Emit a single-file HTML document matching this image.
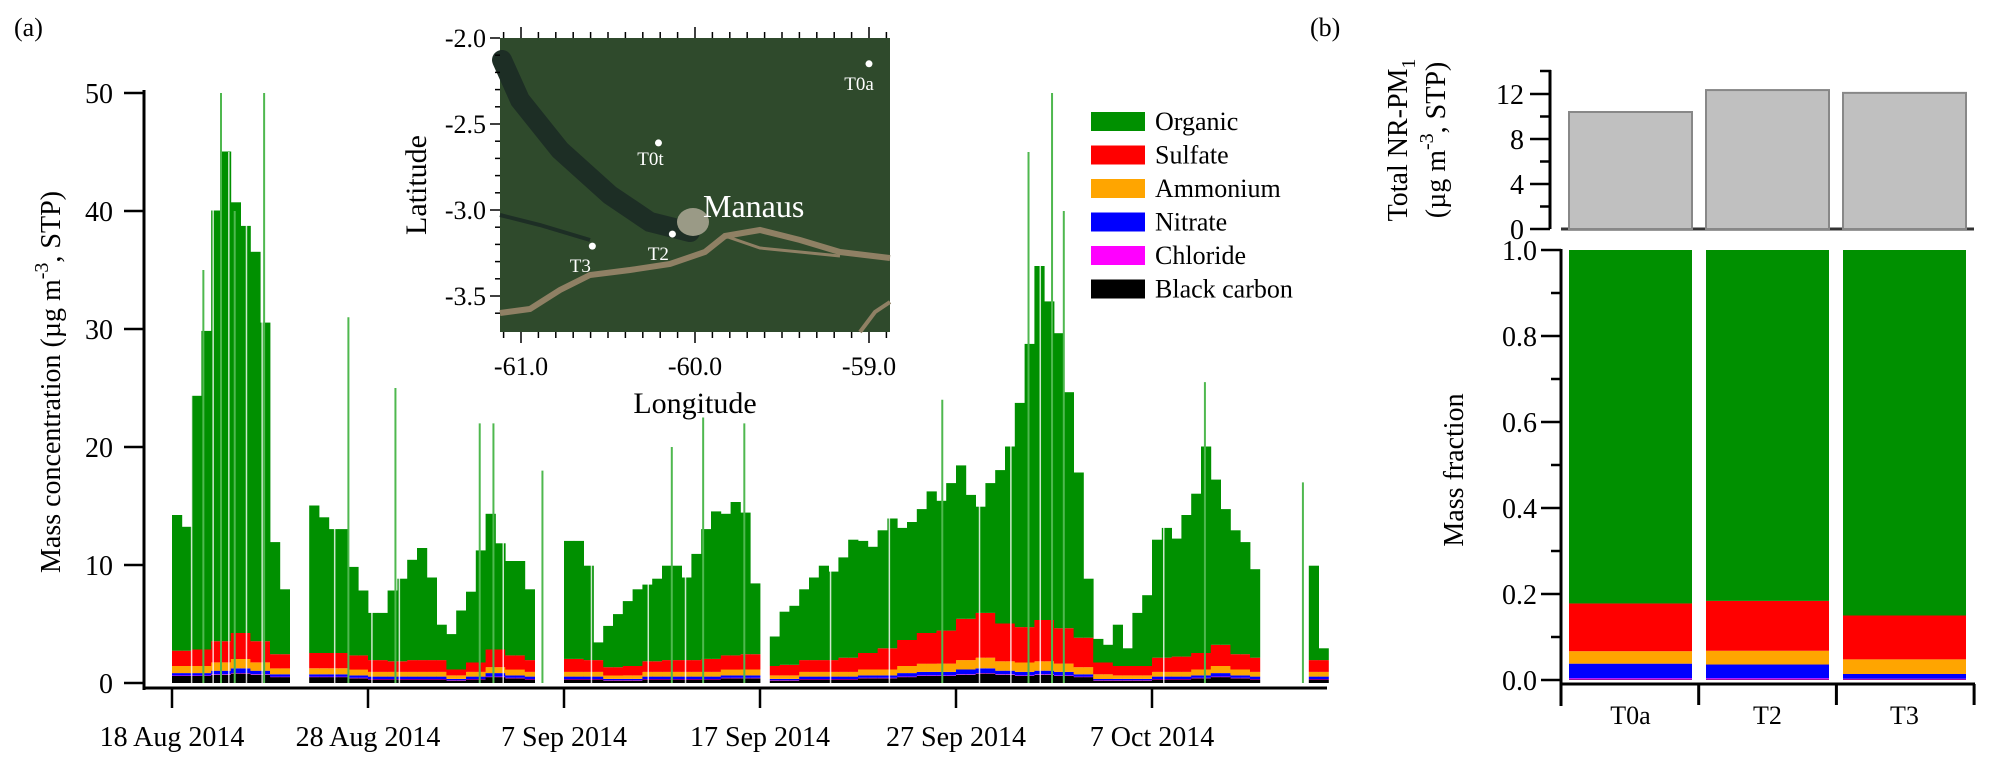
<!DOCTYPE html>
<html><head><meta charset="utf-8">
<style>
html,body{margin:0;padding:0;background:#fff;}
svg{display:block;}
svg text{font-family:"Liberation Serif","Times New Roman",serif;}
</style></head>
<body>
<svg id="fig" width="1995" height="776" viewBox="0 0 1995 776" xmlns="http://www.w3.org/2000/svg" font-family="Liberation Serif, serif">
<g id="panelA"></g>
<g id="mapG"></g>
<g id="legendG"></g>
<g id="panelB"></g>
<text x="14" y="36" font-size="26">(a)</text>
<text x="1310" y="36" font-size="26">(b)</text>
</svg>
<script>
// ---------- Panel (a) data: half-day bins starting 18 Aug 2014 ----------
const orgHalfDay = [11.5,10.5,21.5,27,36.5,41.5,36.5,34.5,33,27,9.5,5.5,null,null,12.5,11.5,10.5,10.5,7.5,5.5,4,4,6,7,8.5,9.5,7,3,3,5,6,9.5,11.5,9,8,8,6,null,null,null,10,10,8,1.5,3.5,4.5,5.5,6.5,6.5,7,8,8,7,9,11,12.5,12,13,12,6,null,2.5,4.5,5,6,7,8,7.5,8.5,10,9.5,9,10,11,9.5,10,10.5,12,11,12.5,13,10.5,9,11,13,15,19,24,30,27,25,20,14,5,2,1.5,3.5,1.5,4.5,6,10,11,10,12,13.5,17.5,14,11.5,10.5,9.5,7.5,null,null,null,null,null,8,1];
const so4Daily = [1.3,1.4,1.8,2.2,1.8,1.2,1.2,1.3,1.3,1.2,1.0,0.9,1.0,1.0,0.5,0.8,1.5,1.2,1.0,1.0,1.1,1.0,0.7,0.8,0.9,1.0,1.0,1.1,1.2,1.3,0.8,0.9,1.0,1.0,1.2,1.4,1.8,2.2,2.6,2.8,3.5,3.8,3.2,3.0,3.5,3.0,2.5,1.0,0.8,0.8,1.2,1.3,1.4,1.8,1.3,1.2,1.0,1.0,1.0,0.8];
const nh4Daily = [0.6,0.6,0.7,0.8,0.7,0.5,0.5,0.5,0.5,0.5,0.4,0.4,0.4,0.4,0.3,0.4,0.5,0.5,0.4,0.4,0.4,0.4,0.3,0.3,0.4,0.4,0.4,0.4,0.5,0.5,0.3,0.3,0.4,0.4,0.4,0.5,0.5,0.6,0.7,0.7,0.8,0.9,0.8,0.8,0.8,0.7,0.6,0.4,0.3,0.3,0.4,0.4,0.5,0.6,0.5,0.4,0.4,0.4,0.4,0.3];
const no3Daily = [0.2,0.2,0.3,0.4,0.3,0.2,0.2,0.2,0.2,0.2,0.2,0.2,0.2,0.2,0.1,0.2,0.3,0.2,0.2,0.2,0.2,0.2,0.1,0.1,0.2,0.2,0.2,0.2,0.2,0.2,0.1,0.1,0.2,0.2,0.2,0.2,0.2,0.3,0.3,0.3,0.4,0.4,0.3,0.3,0.3,0.3,0.2,0.1,0.1,0.1,0.2,0.2,0.2,0.3,0.2,0.2,0.2,0.2,0.2,0.1];
const bcDaily = [0.6,0.6,0.7,0.8,0.7,0.5,0.5,0.5,0.5,0.4,0.3,0.3,0.3,0.3,0.2,0.3,0.5,0.4,0.3,0.3,0.3,0.3,0.2,0.2,0.3,0.3,0.3,0.3,0.4,0.4,0.2,0.2,0.3,0.3,0.3,0.4,0.4,0.5,0.6,0.6,0.7,0.8,0.7,0.6,0.7,0.6,0.5,0.2,0.2,0.2,0.3,0.3,0.4,0.5,0.4,0.3,0.3,0.3,0.3,0.2];
const spikeDays = [1.6,2.5,3.2,4.7,9,11.4,15.7,16.4,18.9,25.5,27.1,29.2,39.3,43.7,44.9,45.5,52.7,57.7];
const spikeVals = [35,50,40,50,31,25,22,22,18,20,22.5,22,24,45,50,40,25.5,17];
const gapDays = [1.0,2.1,2.9,3.8,4.6,8.3,10.2,11.6,16.9,21.4,24.3,26.2,33.6,36.6,41.2,42.8,44.3,50.6];
const yTicksA = [0,10,20,30,40,50];
const dateTickDays = [0,10,20,30,40,50];
const dateTickLabels = ["18 Aug 2014","28 Aug 2014","7 Sep 2014","17 Sep 2014","27 Sep 2014","7 Oct 2014"];
// ---------- Legend ----------
const speciesNames = ["Organic","Sulfate","Ammonium","Nitrate","Chloride","Black carbon"];
const speciesColors = ["#009000","#ff0000","#ffa500","#0000ff","#ff00ff","#000000"];
// ---------- Panel (b) data ----------
const sites = ["T0a","T2","T3"];
const totalMass = [10.4,12.35,12.1];
const fracBC = [0.001,0.001,0.001];
const fracChl = [0.003,0.003,0.002];
const fracNO3 = [0.034,0.032,0.011];
const fracNH4 = [0.029,0.032,0.034];
const fracSO4 = [0.111,0.116,0.102];
const yTicksTop = [0,4,8,12];
const yTicksFrac = [0,0.2,0.4,0.6,0.8,1.0];
// ---------- Map ----------
const latTicks = [-2.0,-2.5,-3.0,-3.5];
const lonTicks = [-61.0,-60.0,-59.0];
const siteLon = [-59.0,-60.21,-60.13,-60.59];
const siteLat = [-2.15,-2.61,-3.14,-3.21];
const siteNames = ["T0a","T0t","T2","T3"];

const NS="http://www.w3.org/2000/svg";
function mk(tag, attrs, parent){const e=document.createElementNS(NS,tag);for(const k in attrs)e.setAttribute(k,attrs[k]);parent.appendChild(e);return e;}

// ===== Panel A =====
const A=document.getElementById('panelA');
const xA=d=>172+d*19.6;
const yA=v=>683-v*11.8;
const bw=9.8;
for(let i=0;i<orgHalfDay.length;i++){
  if(orgHalfDay[i]===null) continue;
  const di=Math.floor(i/2);
  const layers=[bcDaily[di],0.04,no3Daily[di],nh4Daily[di],so4Daily[di],orgHalfDay[i]];
  const cols=["#000000","#ff00ff","#0000ff","#ffa500","#ff0000","#009000"];
  let base=0;
  for(let k=0;k<layers.length;k++){
    const top=base+layers[k];
    const r=mk('rect',{x:xA(i/2).toFixed(1),y:yA(top).toFixed(1),width:(bw+0.4).toFixed(1),height:(yA(base)-yA(top)).toFixed(1),fill:cols[k]},A);
    
    
    base=top;
  }
}
for(let i=0;i<gapDays.length;i++){
  const l=mk('line',{x1:xA(gapDays[i]),x2:xA(gapDays[i]),y1:yA(0),y2:yA(45),stroke:"#ffffff","stroke-width":1.5,opacity:0.8},A);
  
  
}
for(let i=0;i<spikeDays.length;i++){
  const l=mk('line',{x1:xA(spikeDays[i]),x2:xA(spikeDays[i]),y1:yA(0),y2:yA(spikeVals[i]),stroke:"#4fb84f","stroke-width":2},A);
  
  
}
// axes
mk('line',{x1:144,y1:90,x2:144,y2:690,stroke:"#000","stroke-width":3},A);
mk('line',{x1:143,y1:688,x2:1327,y2:688,stroke:"#000","stroke-width":3},A);
for(const v of yTicksA){
  mk('line',{x1:124,x2:144,y1:yA(v),y2:yA(v),stroke:"#000","stroke-width":2.5},A);
  const t=mk('text',{x:113,y:yA(v)+10,"font-size":28,"text-anchor":"end"},A);t.textContent=v;
  
  
}
for(let i=0;i<dateTickDays.length;i++){
  const x=xA(dateTickDays[i]);
  mk('line',{x1:x,x2:x,y1:688,y2:708,stroke:"#000","stroke-width":2.5},A);
  const t=mk('text',{x:x,y:746,"font-size":28,"text-anchor":"middle"},A);t.textContent=dateTickLabels[i];
  
  
}
{const t=mk('text',{transform:"translate(60,382) rotate(-90)","font-size":28,"text-anchor":"middle"},A);
t.innerHTML='Mass concentration (µg m<tspan dy="-12" font-size="20">-3</tspan><tspan dy="12">, STP)</tspan>';
}

// ===== Map =====
const M=document.getElementById('mapG');
const xM=lon=>695+(lon+60)*174;
const yM=lat=>38+(-2-lat)*172;
mk('rect',{x:500,y:38,width:390,height:294,fill:"#2f4a2c"},M);
mk('path',{d:"M502,60 L520,100 L560,150 L610,195 L650,222 L690,232",fill:"none",stroke:"#1d2e25","stroke-width":20,"stroke-linecap":"round"},M);
mk('path',{d:"M500,215 L540,225 L590,240",fill:"none",stroke:"#1d2e25","stroke-width":4},M);
mk('ellipse',{cx:693,cy:222,rx:16,ry:14,fill:"#9a9a86"},M);
mk('path',{d:"M500,313 L530,309 L560,290 L590,275 L630,270 L670,264 L705,252 L725,236 L760,230 L800,240 L840,252 L890,258",fill:"none",stroke:"#8f8064","stroke-width":6},M);
mk('path',{d:"M725,236 L760,248 L800,252 L840,256",fill:"none",stroke:"#8f8064","stroke-width":3},M);
mk('path',{d:"M860,332 L875,312 L890,302",fill:"none",stroke:"#8f8064","stroke-width":4},M);
for(let lat=-2.0;lat>=-3.7;lat-=0.1){
  const y=yM(lat);const major=Math.abs(lat*2-Math.round(lat*2))<0.01;
  mk('line',{x1:major?490:495,x2:500,y1:y,y2:y,stroke:"#000","stroke-width":1.5},M);
}
for(let lon=-61.1;lon<=-58.85;lon+=0.1){
  const x=xM(lon);const major=Math.abs(lon-Math.round(lon))<0.01;
  mk('line',{x1:x,x2:x,y1:332,y2:major?343:338,stroke:"#000","stroke-width":1.5},M);
  mk('line',{x1:x,x2:x,y1:38,y2:major?27:32,stroke:"#000","stroke-width":1.5},M);
}
for(const v of latTicks){const t=mk('text',{x:486,y:yM(v)+9,"font-size":26,"text-anchor":"end"},M);t.textContent=v.toFixed(1);
}
for(const v of lonTicks){const t=mk('text',{x:xM(v),y:375,"font-size":26,"text-anchor":"middle"},M);t.textContent=v.toFixed(1);
}
{const t=mk('text',{transform:"translate(426,185) rotate(-90)","font-size":30,"text-anchor":"middle"},M);t.textContent="Latitude";
}
{const t=mk('text',{x:695,y:413,"font-size":30,"text-anchor":"middle"},M);t.textContent="Longitude";
}
const labOff=[[-10,22],[-8,18],[-14,22],[-12,22]];
for(let i=0;i<siteNames.length;i++){
  const c=mk('circle',{cx:xM(siteLon[i]),cy:yM(siteLat[i]),r:3.5,fill:"#fff"},M);
  
  const t=mk('text',{x:xM(siteLon[i])+labOff[i][0],y:yM(siteLat[i])+labOff[i][1]+4,"font-size":19,fill:"#fff","text-anchor":"middle"},M);
  t.textContent=siteNames[i];
}
{const t=mk('text',{x:703,y:217,"font-size":32,fill:"#fff"},M);t.textContent="Manaus";
}

// ===== Legend =====
const L=document.getElementById('legendG');
for(let i=0;i<speciesNames.length;i++){
  const y=121+i*33.5;
  const r=mk('rect',{x:1091,y:y-9,width:54,height:19,fill:speciesColors[i]},L);
  
  const t=mk('text',{x:1155,y:y+9,"font-size":26},L);t.textContent=speciesNames[i];
  
}

// ===== Panel B =====
const B=document.getElementById('panelB');
const barX=i=>1569+i*137;const barW=123;
const yT=v=>229-v*11.25;
const yF=f=>680-f*430;
mk('line',{x1:1550,y1:70,x2:1550,y2:229,stroke:"#000","stroke-width":3},B);
mk('line',{x1:1540,y1:71,x2:1551,y2:71,stroke:"#000","stroke-width":2.5},B);
for(let v=0;v<=12;v+=2){
  const y=yT(v);const major=v%4===0;
  mk('line',{x1:major?1530:1540,x2:1550,y1:y,y2:y,stroke:"#000","stroke-width":2.5},B);
}
for(const v of yTicksTop){const t=mk('text',{x:1524,y:yT(v)+10,"font-size":28,"text-anchor":"end"},B);t.textContent=v;
}
mk('line',{x1:1561,y1:229,x2:1974,y2:229,stroke:"#333","stroke-width":3},B);
for(let i=0;i<sites.length;i++){
  const r=mk('rect',{x:barX(i),y:yT(totalMass[i]),width:barW,height:yT(0)-yT(totalMass[i]),fill:"#c0c0c0",stroke:"#888","stroke-width":2},B);
  
}
{const t=mk('text',{transform:"translate(1407,140) rotate(-90)","font-size":28,"text-anchor":"middle"},B);
t.innerHTML='Total NR-PM<tspan dy="8" font-size="20">1</tspan>';
}
{const t=mk('text',{transform:"translate(1445,140) rotate(-90)","font-size":28,"text-anchor":"middle"},B);
t.innerHTML='(µg m<tspan dy="-12" font-size="20">-3</tspan><tspan dy="12">, STP)</tspan>';
}
// fraction
mk('line',{x1:1561,y1:249,x2:1561,y2:706,stroke:"#000","stroke-width":3},B);
for(let f=0;f<=1.001;f+=0.1){
  const y=yF(f);const major=Math.round(f*10)%2===0;
  mk('line',{x1:major?1541:1551,x2:1561,y1:y,y2:y,stroke:"#000","stroke-width":2.5},B);
}
for(const v of yTicksFrac){const t=mk('text',{x:1537,y:yF(v)+10,"font-size":28,"text-anchor":"end"},B);t.textContent=v.toFixed(1);
}
const fracCols=["#000000","#ff00ff","#0000ff","#ffa500","#ff0000","#009000"];
for(let i=0;i<sites.length;i++){
  const parts=[fracBC[i],fracChl[i],fracNO3[i],fracNH4[i],fracSO4[i]];
  const sum=parts.reduce((a,b)=>a+b,0);parts.push(1-sum);
  let base=0;
  for(let k=0;k<parts.length;k++){
    const top=base+parts[k];
    const r=mk('rect',{x:barX(i),y:yF(top),width:barW,height:yF(base)-yF(top),fill:fracCols[k]},B);
    
    base=top;
  }
}
mk('line',{x1:1561,y1:684,x2:1975,y2:684,stroke:"#000","stroke-width":3},B);
for(let i=0;i<=3;i++){const x=1561+i*137.7;mk('line',{x1:x,x2:x,y1:684,y2:705,stroke:"#000","stroke-width":3},B);}
for(let i=0;i<sites.length;i++){const t=mk('text',{x:barX(i)+barW/2,y:724,"font-size":26,"text-anchor":"middle"},B);t.textContent=sites[i];
}
{const t=mk('text',{transform:"translate(1463,470) rotate(-90)","font-size":28,"text-anchor":"middle"},B);t.textContent="Mass fraction";
}
</script>
</body></html>
